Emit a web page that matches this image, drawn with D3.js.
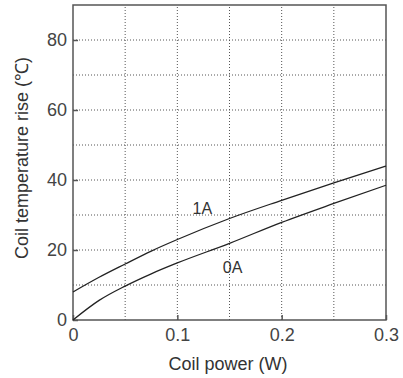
<!DOCTYPE html>
<html>
<head>
<meta charset="utf-8">
<script src="https://cdn.jsdelivr.net/npm/d3@7"></script>
<style>
body { margin: 0; background: #fff; }
svg { display: block; }
</style>
</head>
<body>
<script>
// coil power (W) and temperature rise (deg C) for the two currents
var power = [0, 0.025, 0.05, 0.075, 0.1, 0.15, 0.2, 0.25, 0.3];
var rise1A = [8, 12.2, 16, 19.7, 23, 29, 34.2, 39.2, 44];
var rise0A = [0, 5.6, 9.7, 13.2, 16.3, 21.9, 27.9, 33.3, 38.5];
var xTicks = [0, 0.1, 0.2, 0.3];
var yTicks = [0, 20, 40, 60, 80];

var svg = d3.select("body").append("svg")
	.attr("width", 403)
	.attr("height", 378);

var x = d3.scaleLinear().domain([0, 0.3]).range([73, 386]);
var y = d3.scaleLinear().domain([0, 90]).range([320, 5]);

// dotted grid
svg.selectAll("line.vgrid")
	.data(d3.range(0.05, 0.3, 0.05))
	.enter().append("line")
		.attr("class", "vgrid")
		.attr("x1", function(d){ return x(d); })
		.attr("x2", function(d){ return x(d); })
		.attr("y1", y(0))
		.attr("y2", y(90))
		.attr("stroke", "#555")
		.attr("stroke-width", 1)
		.attr("stroke-dasharray", "1,2");

svg.selectAll("line.hgrid")
	.data(d3.range(10, 90, 10))
	.enter().append("line")
		.attr("class", "hgrid")
		.attr("x1", x(0))
		.attr("x2", x(0.3))
		.attr("y1", function(d){ return y(d); })
		.attr("y2", function(d){ return y(d); })
		.attr("stroke", "#555")
		.attr("stroke-width", 1)
		.attr("stroke-dasharray", "1,2");

// frame
svg.append("rect")
	.attr("x", x(0))
	.attr("y", y(90))
	.attr("width", x(0.3) - x(0))
	.attr("height", y(0) - y(90))
	.attr("fill", "none")
	.attr("stroke", "#555")
	.attr("stroke-width", 1.5);

var xAxis = svg.append("g")
	.attr("transform", "translate(0," + y(0) + ")")
	.call(d3.axisBottom(x).tickValues(xTicks).tickSizeInner(-5).tickSizeOuter(0)
		.tickPadding(8).tickFormat(d3.format("")));
var yAxis = svg.append("g")
	.attr("transform", "translate(" + x(0) + ",0)")
	.call(d3.axisLeft(y).tickValues(yTicks).tickSizeInner(-5).tickSizeOuter(0)
		.tickPadding(6));

[xAxis, yAxis].forEach(function(a){
	a.select(".domain").remove();
	a.selectAll(".tick line").attr("stroke", "#555").attr("stroke-width", 1.5);
	a.selectAll("text")
		.attr("fill", "#444")
		.style("font-family", "'Liberation Sans', Arial, sans-serif")
		.style("font-weight", "normal")
		.style("font-size", "18px");
});

var line = d3.line()
	.x(function(d){ return x(d[0]); })
	.y(function(d){ return y(d[1]); })
	.curve(d3.curveMonotoneX);

[rise1A, rise0A].forEach(function(s){
	svg.append("path")
		.datum(power.map(function(p, i){ return [p, s[i]]; }))
		.attr("d", line)
		.attr("fill", "none")
		.attr("stroke", "#222")
		.attr("stroke-width", 1.3);
});

// curve labels
svg.append("text")
	.attr("x", x(0.124)).attr("y", y(30.3))
	.attr("text-anchor", "middle")
	.style("font-family", "'Liberation Sans', Arial, sans-serif")
	.style("font-size", "16px")
	.attr("fill", "#333")
	.text("1A");
svg.append("text")
	.attr("x", x(0.153)).attr("y", y(13.5))
	.attr("text-anchor", "middle")
	.style("font-family", "'Liberation Sans', Arial, sans-serif")
	.style("font-size", "16px")
	.attr("fill", "#333")
	.text("0A");

// axis titles
svg.append("text")
	.attr("x", 228).attr("y", 370)
	.attr("text-anchor", "middle")
	.style("font-family", "'Liberation Sans', Arial, sans-serif")
	.style("font-size", "18px")
	.attr("fill", "#333")
	.text("Coil power (W)");
svg.append("text")
	.attr("transform", "translate(28,158) rotate(-90)")
	.attr("text-anchor", "middle")
	.style("font-family", "'Liberation Sans', Arial, sans-serif")
	.style("font-size", "18px")
	.attr("fill", "#333")
	.text("Coil temperature rise (℃)");
</script>
</body>
</html>
